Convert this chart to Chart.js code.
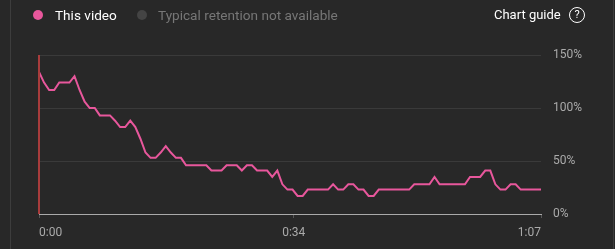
<!DOCTYPE html>
<html>
<head>
<meta charset="utf-8">
<script src="https://cdn.jsdelivr.net/npm/chart.js@4"></script>
<style>
  html, body { margin: 0; padding: 0; background: #282828; }
  body { width: 615px; height: 249px; position: relative; overflow: hidden; font-family: Roboto, sans-serif; }
  .frame { position: absolute; left: 10px; top: 0; width: 602px; height: 249px; border-left: 1px solid #3d3d3d; border-right: 1px solid #3d3d3d; }
  #wrap { position: absolute; left: 0; top: 0; width: 615px; height: 249px; }
  .dot { position: absolute; top: 10px; width: 10px; height: 10px; border-radius: 50%; }
  .lbl { position: absolute; top: 6px; font-size: 13.6px; line-height: 18px; white-space: nowrap; }
  .help { position: absolute; top: 7px; left: 569px; width: 14px; height: 14px; border: 1.5px solid #fff; border-radius: 50%; color: #fff; font-size: 11px; text-align: center; line-height: 14px; }
</style>
</head>
<body>
<div class="frame"></div>
<div id="wrap"><canvas id="retentionChart" width="615" height="249"></canvas></div>
<span class="dot" style="left:33px;background:#e8579c"></span>
<span class="lbl" style="left:55px;color:#fff">This video</span>
<span class="dot" style="left:137px;background:#444"></span>
<span class="lbl" style="left:158px;color:#777">Typical retention not available</span>
<span class="lbl" style="left:494px;color:#fff;font-size:13px">Chart guide</span>
<div class="help">?</div>
<script>
// video length in seconds and x tick labels
const videoLength = 67;
const timeTicks = [0, 34, 67];
const timeLabels = ['0:00', '0:34', '1:07'];
const pctTicks = [0, 50, 100, 150];

// audience retention (%), 100 samples across the video
const retention = [
  134, 124, 117, 117, 124, 124, 124, 130, 117, 106,
  100, 100, 93, 93, 93, 88, 82, 82, 88, 82,
  71, 58, 53, 53, 58, 64, 58, 53, 53, 46,
  46, 46, 46, 46, 41, 41, 41, 46, 46, 46,
  41, 46, 46, 41, 41, 41, 35, 41, 28, 23,
  23, 17, 17, 23, 23, 23, 23, 23, 28, 23,
  23, 28, 28, 23, 23, 17, 17, 23, 23, 23,
  23, 23, 23, 23, 28, 28, 28, 28, 35, 28,
  28, 28, 28, 28, 28, 35, 35, 35, 41, 41,
  28, 23, 23, 28, 28, 23, 23, 23, 23, 23
];

const points = retention.map((v, i) => ({ x: i * videoLength / (retention.length - 1), y: v }));

const playhead = {
  id: 'playhead',
  afterDatasetsDraw(c) {
    const x = c.scales.x.getPixelForValue(0);
    const ctx = c.ctx;
    ctx.save();
    ctx.strokeStyle = '#a83c3c';
    ctx.lineWidth = 2;
    ctx.beginPath();
    ctx.moveTo(x, c.chartArea.top);
    ctx.lineTo(x, c.chartArea.bottom);
    ctx.stroke();
    ctx.restore();
  }
};

const ctx = document.getElementById('retentionChart').getContext('2d');
const chart = new Chart(ctx, {
  type: 'line',
  data: {
    datasets: [{
      label: 'This video',
      data: points,
      borderColor: '#e8579c',
      borderWidth: 2,
      pointRadius: 0,
      tension: 0
    }]
  },
  options: {
    responsive: false,
    animation: false,
    layout: { padding: { left: 39, top: 55, right: 0, bottom: 0 } },
    plugins: { legend: { display: false }, tooltip: { enabled: false } },
    scales: {
      x: {
        type: 'linear',
        min: 0,
        max: videoLength,
        afterBuildTicks: s => { s.ticks = timeTicks.map(v => ({ value: v })); },
        afterFit: s => { s.height = 35; },
        grid: { drawOnChartArea: false, color: '#555', tickLength: 4 },
        border: { color: '#aaa', width: 1 },
        ticks: {
          color: '#aaa',
          font: { family: 'Roboto', size: 12 },
          align: 'inner',
          maxRotation: 0,
          padding: 8,
          callback: v => timeLabels[timeTicks.indexOf(v)]
        }
      },
      y: {
        position: 'right',
        min: 0,
        max: 150,
        afterBuildTicks: s => { s.ticks = pctTicks.map(v => ({ value: v })); },
        afterFit: s => { s.width = 74; },
        grid: { color: '#3a3a3a', drawTicks: false },
        border: { display: false },
        ticks: {
          color: '#aaa',
          font: { family: 'Roboto', size: 12 },
          padding: 12,
          callback: v => v + '%'
        }
      }
    }
  },
  plugins: [playhead]
});
</script>
</body>
</html>
